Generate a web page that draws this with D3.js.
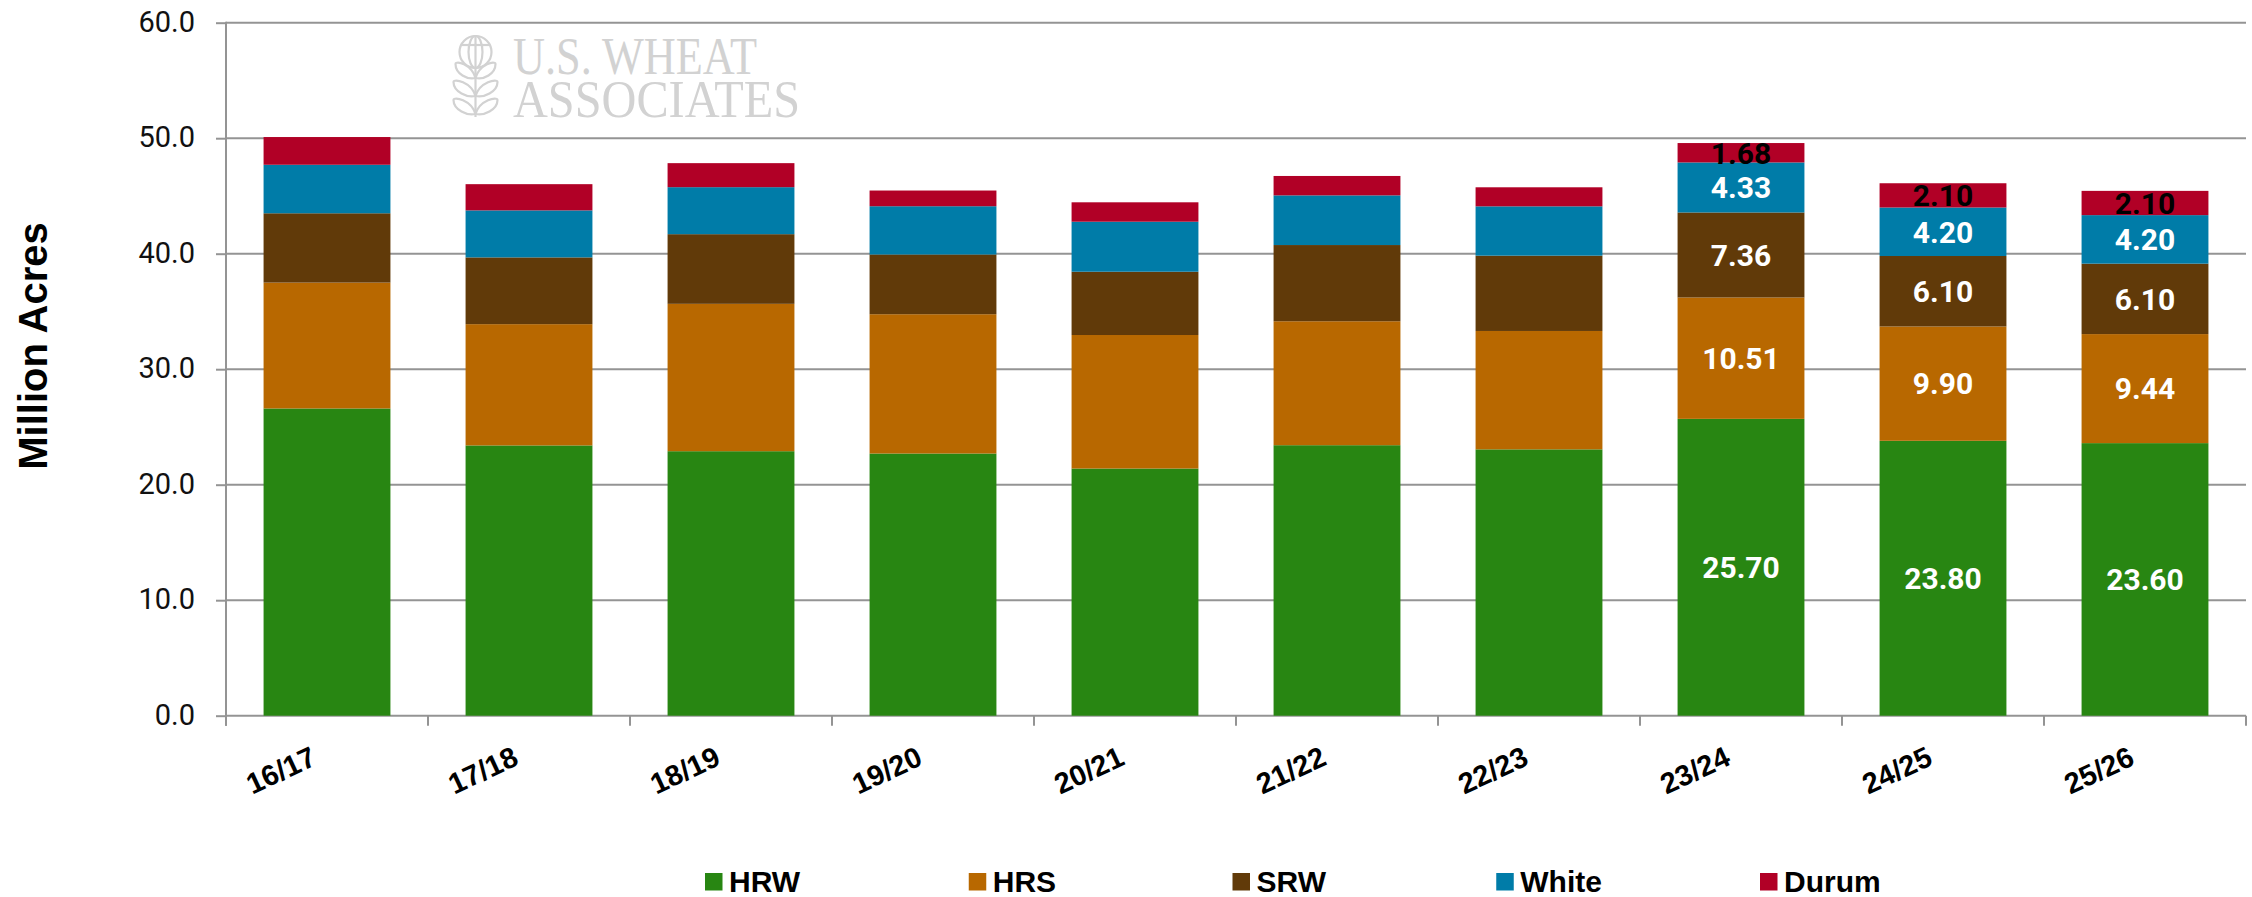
<!DOCTYPE html>
<html>
<head>
<meta charset="utf-8">
<script src="https://cdn.jsdelivr.net/npm/d3@7"></script>
<style>
  html, body { margin: 0; padding: 0; background: #ffffff; }
  svg { display: block; }
</style>
</head>
<body>
<svg id="chart" width="2252" height="897"></svg>
<script>
// ---------- DATA ----------
const seasons = ["16/17","17/18","18/19","19/20","20/21","21/22","22/23","23/24","24/25","25/26"];
const seriesNames = ["HRW","HRS","SRW","White","Durum"];
const hrw   = [26.60, 23.40, 22.90, 22.70, 21.40, 23.42, 23.06, 25.70, 23.80, 23.60];
const hrs   = [10.90, 10.50, 12.76, 12.06, 11.56, 10.73, 10.25, 10.51,  9.90,  9.44];
const srw   = [ 6.00,  5.78,  6.03,  5.17,  5.48,  6.60,  6.52,  7.36,  6.10,  6.10];
const white = [ 4.20,  4.07,  4.07,  4.18,  4.33,  4.30,  4.27,  4.33,  4.20,  4.20];
const durum = [ 2.40,  2.27,  2.08,  1.36,  1.68,  1.68,  1.65,  1.68,  2.10,  2.10];
const labeledSeasons = ["23/24","24/25","25/26"];
const yTicks = [0, 10, 20, 30, 40, 50, 60];
const yTitle = "Million Acres";
const colors = ["#288612", "#b86800", "#613a09", "#007ca8", "#b10026"];
const labelColors = ["#ffffff", "#ffffff", "#ffffff", "#ffffff", "#000000"];

// ---------- LAYOUT ----------
const plotLeft = 226, plotRight = 2246, plotTop = 22.7, plotBottom = 715.7;
const gridColor = "#949494";

const svg = d3.select("#chart");

const table = seasons.map((s, i) => ({
  season: s, HRW: hrw[i], HRS: hrs[i], SRW: srw[i], White: white[i], Durum: durum[i]
}));

const x = d3.scaleBand().domain(seasons).range([plotLeft, plotRight])
  .paddingInner(0.372).paddingOuter(0.186);
const y = d3.scaleLinear().domain([0, 60]).range([plotBottom, plotTop]);
const color = d3.scaleOrdinal().domain(seriesNames).range(colors);
const labelColor = d3.scaleOrdinal().domain(seriesNames).range(labelColors);

// ---------- LOGO (watermark) ----------
const logo = svg.append("g").attr("fill", "none").attr("stroke", "#d2d2d2").attr("stroke-width", 2.2);
const lcx = 475.5;
logo.append("circle").attr("cx", lcx).attr("cy", 52).attr("r", 16);
logo.append("ellipse").attr("cx", lcx).attr("cy", 52).attr("rx", 7).attr("ry", 16);
logo.append("line").attr("x1", lcx - 15).attr("x2", lcx + 15).attr("y1", 45).attr("y2", 45);
logo.append("line").attr("x1", lcx).attr("x2", lcx).attr("y1", 36).attr("y2", 117);
[62, 80, 98].forEach((ly, k) => {
  const w = k === 0 ? 20 : 22;
  logo.append("path").attr("d", `M${lcx},${ly + 16} C${lcx - 4},${ly + 2} ${lcx - w},${ly - 2} ${lcx - w},${ly + 2} C${lcx - w},${ly + 12} ${lcx - 8},${ly + 18} ${lcx},${ly + 16}`);
  logo.append("path").attr("d", `M${lcx},${ly + 16} C${lcx + 4},${ly + 2} ${lcx + w},${ly - 2} ${lcx + w},${ly + 2} C${lcx + w},${ly + 12} ${lcx + 8},${ly + 18} ${lcx},${ly + 16}`);
});
svg.append("text").attr("x", 513).attr("y", 74)
  .attr("font-family", "'Liberation Serif', 'DejaVu Serif', serif").attr("font-size", 52)
  .attr("fill", "#d2d2d2").attr("textLength", 244).attr("lengthAdjust", "spacingAndGlyphs")
  .text("U.S. WHEAT");
svg.append("text").attr("x", 513).attr("y", 116.5)
  .attr("font-family", "'Liberation Serif', 'DejaVu Serif', serif").attr("font-size", 53)
  .attr("fill", "#d2d2d2").attr("textLength", 287).attr("lengthAdjust", "spacingAndGlyphs")
  .text("ASSOCIATES");

// ---------- GRIDLINES ----------
svg.append("g").selectAll("line").data(yTicks).join("line")
  .attr("x1", plotLeft).attr("x2", plotRight)
  .attr("y1", d => y(d)).attr("y2", d => y(d))
  .attr("stroke", gridColor).attr("stroke-width", 2);

// ---------- BARS ----------
const stacked = d3.stack().keys(seriesNames)(table);
const layers = svg.append("g").selectAll("g").data(stacked).join("g")
  .attr("fill", d => color(d.key));
layers.selectAll("rect").data(d => d.map(v => ({ key: d.key, v }))).join("rect")
  .attr("x", d => x(d.v.data.season))
  .attr("width", x.bandwidth())
  .attr("y", d => y(d.v[1]))
  .attr("height", d => y(d.v[0]) - y(d.v[1]));

// ---------- DATA LABELS ----------
const fmt = d3.format(".2f");
const labelData = [];
stacked.forEach(layer => layer.forEach(v => {
  if (labeledSeasons.includes(v.data.season)) labelData.push({ key: layer.key, v });
}));
svg.append("g").selectAll("text").data(labelData).join("text")
  .attr("x", d => x(d.v.data.season) + x.bandwidth() / 2)
  .attr("y", d => (y(d.v[0]) + y(d.v[1])) / 2)
  .attr("dy", "0.36em")
  .attr("text-anchor", "middle")
  .attr("font-family", "Roboto, 'Liberation Sans', sans-serif")
  .attr("font-weight", 700).attr("font-size", 30)
  .attr("fill", d => labelColor(d.key))
  .text(d => fmt(d.v.data[d.key]));

// ---------- Y AXIS ----------
const yAxis = svg.append("g").attr("transform", `translate(${plotLeft},0)`)
  .call(d3.axisLeft(y).tickValues(yTicks).tickFormat(d3.format(".1f")).tickSize(10).tickPadding(21));
yAxis.select(".domain").remove();
yAxis.selectAll(".tick line").attr("stroke", gridColor).attr("stroke-width", 2);
yAxis.selectAll(".tick text")
  .attr("font-family", "Roboto, 'Liberation Sans', sans-serif")
  .attr("font-size", 29).attr("fill", "#111").attr("dy", "0.3em");
svg.append("line").attr("x1", plotLeft).attr("x2", plotLeft)
  .attr("y1", plotTop - 1).attr("y2", plotBottom + 10)
  .attr("stroke", gridColor).attr("stroke-width", 2);

// ---------- X AXIS ----------
const gap = x.step() - x.bandwidth();
const boundaries = seasons.map(s => x(s) - gap / 2).concat([x(seasons[seasons.length - 1]) + x.bandwidth() + gap / 2]);
svg.append("g").selectAll("line").data(boundaries).join("line")
  .attr("x1", d => d).attr("x2", d => d)
  .attr("y1", plotBottom).attr("y2", plotBottom + 10)
  .attr("stroke", gridColor).attr("stroke-width", 2);
svg.append("g").selectAll("text").data(seasons).join("text")
  .attr("transform", d => `translate(${x(d) + x.bandwidth() / 2 - 9},764) rotate(-25)`)
  .attr("text-anchor", "end")
  .attr("font-family", "'Liberation Sans', Arial, sans-serif")
  .attr("font-weight", 700).attr("font-size", 29).attr("fill", "#000")
  .text(d => d);

// ---------- Y TITLE ----------
svg.append("text").attr("transform", "translate(47,346) rotate(-90)")
  .attr("text-anchor", "middle")
  .attr("font-family", "'Liberation Sans', Arial, sans-serif")
  .attr("font-weight", 700).attr("font-size", 40).attr("fill", "#000")
  .text(yTitle);

// ---------- LEGEND ----------
const lx = d3.scalePoint().domain(seriesNames).range([705, 1760]);
const leg = svg.append("g").selectAll("g").data(seriesNames).join("g")
  .attr("transform", d => `translate(${lx(d)},0)`);
leg.append("rect").attr("x", 0).attr("y", 873).attr("width", 17.5).attr("height", 17.5)
  .attr("fill", d => color(d));
leg.append("text").attr("x", 24).attr("y", 892)
  .attr("font-family", "'Liberation Sans', Arial, sans-serif")
  .attr("font-weight", 700).attr("font-size", 30).attr("fill", "#000")
  .text(d => d);
</script>
</body>
</html>
